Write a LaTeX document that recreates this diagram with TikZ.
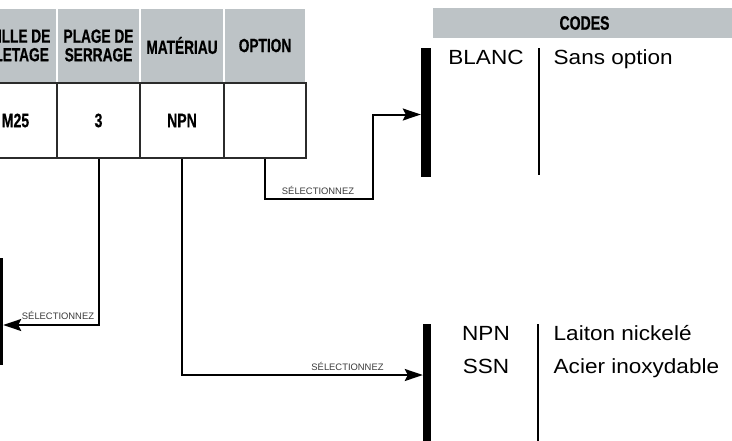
\documentclass[tikz,border=0pt]{standalone}
\usepackage{fontspec}
\setmainfont{Liberation Sans}
\newfontfamily\condb[FakeStretch=0.72,FakeBold=0.6]{Liberation Sans}
\newfontfamily\codef[FakeStretch=1.1]{Liberation Sans}
\usetikzlibrary{arrows.meta}
\definecolor{hdrgray}{HTML}{BDC3C6}
\definecolor{cellline}{HTML}{2B2B2B}
\definecolor{lblgray}{HTML}{3A3A3A}
\begin{document}
\begin{tikzpicture}[x=1pt,y=-1pt,
 hdr/.style={fill=hdrgray,draw=white,line width=2pt,minimum height=75pt,inner sep=0pt,align=center,font=\condb\bfseries\fontsize{19}{18.6}\selectfont},
 cell/.style={fill=white,draw=cellline,line width=1.5pt,minimum height=75pt,inner sep=0pt,font=\condb\bfseries\fontsize{19.5}{22}\selectfont},
 bar/.style={fill=black,inner sep=0pt},
 conn/.style={line width=2pt,-{Stealth[length=18pt,width=12pt,inset=3pt]}},
 lbl/.style={font=\fontsize{9.4}{10}\selectfont,text=lblgray,inner sep=0pt,anchor=base},
 code/.style={font=\codef\fontsize{20.5}{24}\selectfont,inner sep=0pt,anchor=base},
 desc/.style={code,anchor=base west},
 sepline/.style={line width=2pt}]
\useasboundingbox (0,0) rectangle (732,440);
\clip (0,0) rectangle (732,440);
% header row
\node[hdr,minimum width=83pt] (h1) at (15.5,45.5) {TAILLE DE\\FILETAGE};
\node[hdr,minimum width=83pt] (h2) at (98.5,45.5) {PLAGE DE\\SERRAGE};
\node[hdr,minimum width=84pt] (h3) at (182,45.5) {MATÉRIAU};
\node[hdr,minimum width=82pt] (h4) at (265,45.5) {OPTION};
% data row
\node[cell,minimum width=83pt] (d1) at (15.5,120.5) {M25};
\node[cell,minimum width=83pt] (d2) at (98.5,120.5) {3};
\node[cell,minimum width=84pt] (d3) at (182,120.5) {NPN};
\node[cell,minimum width=82pt] (d4) at (265,120.5) {};
% codes header
\node[fill=hdrgray,minimum width=303pt,minimum height=30pt,inner sep=0pt,font=\condb\bfseries\fontsize{19.5}{20}\selectfont] (codes) at (584.5,23) {CODES};
% bars
\node[bar,minimum width=10pt,minimum height=129pt] (bar1) at (426,112.5) {};
\node[bar,minimum width=10pt,minimum height=107pt] (bar2) at (-2,311.5) {};
\node[bar,minimum width=8pt,minimum height=126pt] (bar3) at (427,387) {};
% code lists
\draw[sepline] (539,48) -- (539,175);
\draw[sepline] (538,324) -- (538,445);
\node[code] (c1) at (486,64) {BLANC};
\node[desc] (e1) at (553.5,64) {Sans option};
\node[code] (c2) at (486,340.7) {NPN};
\node[desc] (e2) at (553.5,340.7) {Laiton nickelé};
\node[code] (c3) at (486,373.3) {SSN};
\node[desc] (e3) at (553.5,373.3) {Acier inoxydable};
% connectors
\coordinate (k1) at (373,199);
\draw[conn] (d4.south) |- (k1) |- ([yshift=-2pt]bar1.west);
\draw[conn] (d2.south) |- ([yshift=-13.5pt]bar2.east);
\draw[conn] (d3.south) |- ([yshift=12pt]bar3.west);
% labels
\node[lbl] (l1) at (318,194.3) {SÉLECTIONNEZ};
\node[lbl] (l2) at (58,319) {SÉLECTIONNEZ};
\node[lbl] (l3) at (347.5,370) {SÉLECTIONNEZ};
\end{tikzpicture}
\end{document}
